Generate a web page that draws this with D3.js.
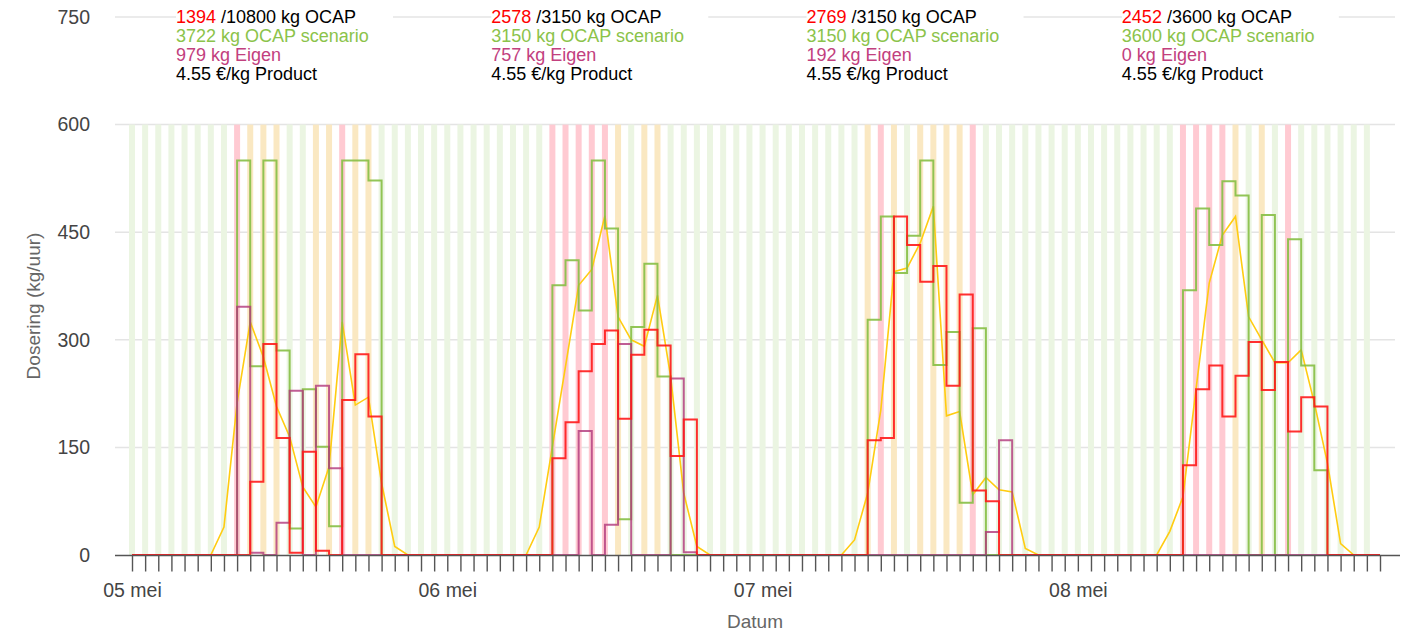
<!DOCTYPE html>
<html>
<head>
<meta charset="utf-8">
<script src="https://cdn.jsdelivr.net/npm/d3@7"></script>
<style>
    body { margin: 0; background: #fff; }
    svg text { font-family: "Liberation Sans", Arial, sans-serif; }
</style>
</head>
<body>
<div id="chart-area"></div>
<script>
/*
*    dosering per uur, 4 dagen
*/

// hourly values per day (kg/uur), 24 per day
var scenario = [
    0,0,0,0,0,0,0,0,550,263,550,285,37,231,151,40,550,550,522,0,0,0,0,0,
    0,0,0,0,0,0,0,0,376,411,341,550,455,50,318,406,249,0,0,0,0,0,0,0,
    0,0,0,0,0,0,0,0,328,472,393,445,550,265,311,73,316,0,0,0,0,0,0,0,
    0,0,0,0,0,0,0,0,369,483,432,521,501,0,474,0,440,264,118,0,0,0,0,0
];
var actual = [
    0,0,0,0,0,0,0,0,0,102,294,163,3,144,6,0,216,280,193,0,0,0,0,0,
    0,0,0,0,0,0,0,0,135,185,256,294,313,190,279,314,292,138,189,0,0,0,0,0,
    0,0,0,0,0,0,0,0,160,163,472,432,381,403,236,363,90,75,0,0,0,0,0,0,
    0,0,0,0,0,0,0,0,125,231,264,193,250,297,230,269,172,220,207,0,0,0,0,0
];
var eigen = [
    0,0,0,0,0,0,0,0,346,3,0,45,229,0,236,121,0,0,0,0,0,0,0,0,
    0,0,0,0,0,0,0,0,0,0,173,0,42,294,0,0,0,246,4,0,0,0,0,0,
    0,0,0,0,0,0,0,0,0,0,0,0,0,0,0,0,0,32,160,0,0,0,0,0,
    0,0,0,0,0,0,0,0,0,0,0,0,0,0,0,0,0,0,0,0,0,0,0,0
];
var forecast = [
    0,0,0,0,0,0,0,39,212,325,276,207,165,95,67,123,325,209,220,100,12,0,0,0,
    0,0,0,0,0,0,0,39,151,263,376,398,473,332,300,291,362,249,86,12,0,0,0,0,
    0,0,0,0,0,0,0,21,86,202,395,400,435,486,194,200,84,108,91,88,9,0,0,0,
    0,0,0,0,0,0,0,33,81,232,379,446,472,332,300,268,268,286,212,128,16,0,0,0
];

// hour status: g = normaal, o = let op, p = piek
var hourStatus = (
    "ggggggggpoooggoopooggggg" +
    "ggggggggpppppogooggggggg" +
    "ggggggggopogoooopggggggg" +
    "ggggggggppppogogpgggggg-"
).split("");

// day summaries
var dayActual = [1394, 2578, 2769, 2452];
var dayLimit = [10800, 3150, 3150, 3600];
var dayScenario = [3722, 3150, 3150, 3600];
var dayEigen = [979, 757, 192, 0];
var dayPrice = [4.55, 4.55, 4.55, 4.55];

var yTicks = [0, 150, 300, 450, 600, 750];

var svgWidth = 1415;
var svgHeight = 632;
var plotLeft = 115, plotRight = 1395, plotTop = 17, plotBottom = 555;

var start = new Date(Date.UTC(2021, 4, 5));
var hours = actual.map((d, i) => d3.utcHour.offset(start, i));
var days = d3.range(4).map((i) => d3.utcDay.offset(start, i));

var nl = d3.timeFormatLocale({
    dateTime: "%a %e %B %Y %T", date: "%d-%m-%Y", time: "%H:%M:%S",
    periods: ["AM", "PM"],
    days: ["zondag","maandag","dinsdag","woensdag","donderdag","vrijdag","zaterdag"],
    shortDays: ["zo","ma","di","wo","do","vr","za"],
    months: ["januari","februari","maart","april","mei","juni","juli","augustus","september","oktober","november","december"],
    shortMonths: ["jan","feb","mrt","apr","mei","jun","jul","aug","sep","okt","nov","dec"]
});
var fmtDay = nl.utcFormat("%d %b");

var x = d3.scaleUtc()
    .domain([hours[0], hours[hours.length - 1]])
    .range([132, 1380]);

var y = d3.scaleLinear()
    .domain([0, 750])
    .range([plotBottom, plotTop]);

var svg = d3.select("#chart-area").append("svg")
    .attr("width", svgWidth)
    .attr("height", svgHeight);

// gridlines
svg.append("g").selectAll("line")
    .data(yTicks.filter((d) => d > 0))
    .enter().append("line")
    .attr("x1", plotLeft).attr("x2", plotRight)
    .attr("y1", (d) => y(d)).attr("y2", (d) => y(d))
    .attr("stroke", "#e4e4e4")
    .attr("stroke-width", 1.5);

// status stripes
var stripeColor = { g: "#ebf5e2", o: "#fae8c2", p: "#ffcad2" };
svg.append("g").selectAll("rect")
    .data(hourStatus.map((s, i) => ({ s: s, t: hours[i] })).filter((d) => d.s !== "-"))
    .enter().append("rect")
    .attr("x", (d) => x(d.t) - 3)
    .attr("width", 6)
    .attr("y", y(600))
    .attr("height", y(0) - y(600))
    .attr("fill", (d) => stripeColor[d.s]);

// lines
var step = d3.line()
    .x((d, i) => x(hours[i]))
    .y((d) => y(d))
    .curve(d3.curveStepAfter);

var straight = d3.line()
    .x((d, i) => x(hours[i]))
    .y((d) => y(d));

svg.append("path").datum(forecast)
    .attr("d", straight)
    .attr("fill", "none")
    .attr("stroke", "#ffcc11")
    .attr("stroke-width", 1.6);

svg.append("path").datum(scenario)
    .attr("d", step)
    .attr("fill", "none")
    .attr("stroke", "#86bf45")
    .attr("stroke-opacity", 0.9)
    .attr("stroke-width", 2);

svg.append("path").datum(eigen)
    .attr("d", step)
    .attr("fill", "none")
    .attr("stroke", "#b0367a")
    .attr("stroke-opacity", 0.8)
    .attr("stroke-width", 2);

svg.append("path").datum(actual)
    .attr("d", step)
    .attr("fill", "none")
    .attr("stroke", "#ff1a1a")
    .attr("stroke-opacity", 0.9)
    .attr("stroke-width", 2);

// x axis
svg.append("line")
    .attr("x1", plotLeft).attr("x2", 1400)
    .attr("y1", plotBottom + 0.5).attr("y2", plotBottom + 0.5)
    .attr("stroke", "#555")
    .attr("stroke-width", 1.5);

var xAxis = svg.append("g")
    .attr("transform", "translate(0," + (plotBottom + 0.5) + ")")
    .call(d3.axisBottom(x)
        .ticks(d3.utcHour.every(1))
        .tickSize(16)
        .tickSizeOuter(0)
        .tickPadding(12)
        .tickFormat((d) => d.getUTCHours() === 0 ? fmtDay(d) : ""));

xAxis.select(".domain").remove();
xAxis.selectAll(".tick line").attr("stroke", "#555").attr("stroke-width", 1.4);
xAxis.selectAll("text")
    .attr("fill", "#444")
    .style("font-size", "19.5px");

// y axis labels
var yAxis = svg.append("g")
    .attr("transform", "translate(" + plotLeft + ",0)")
    .call(d3.axisLeft(y)
        .tickValues(yTicks)
        .tickSize(0)
        .tickPadding(25));

yAxis.select(".domain").remove();
yAxis.selectAll("text")
    .attr("fill", "#444")
    .style("font-size", "19.5px");

// titles
svg.append("text")
    .attr("transform", "translate(40," + ((plotTop + plotBottom) / 2 + 20) + ") rotate(-90)")
    .attr("text-anchor", "middle")
    .attr("fill", "#666")
    .style("font-size", "19px")
    .text("Dosering (kg/uur)");

svg.append("text")
    .attr("x", (plotLeft + plotRight) / 2)
    .attr("y", 628)
    .attr("text-anchor", "middle")
    .attr("fill", "#666")
    .style("font-size", "19px")
    .text("Datum");

// day summaries
var notes = svg.append("g").selectAll("g")
    .data(days)
    .enter().append("g")
    .attr("transform", (d) => "translate(" + (x(d) + 44) + ",0)");

notes.append("rect")
    .attr("x", 0).attr("y", 8)
    .attr("width", 217).attr("height", 18)
    .attr("fill", "#fff");

var line1 = notes.append("text")
    .attr("y", 23)
    .style("font-size", "18px");
line1.append("tspan").attr("fill", "#ff0000").text((d, i) => dayActual[i]);
line1.append("tspan").attr("fill", "#000").text((d, i) => " /" + dayLimit[i] + " kg OCAP");

notes.append("text")
    .attr("y", 42)
    .attr("fill", "#8bc34a")
    .style("font-size", "18px")
    .text((d, i) => dayScenario[i] + " kg OCAP scenario");

notes.append("text")
    .attr("y", 61)
    .attr("fill", "#c2407e")
    .style("font-size", "18px")
    .text((d, i) => dayEigen[i] + " kg Eigen");

notes.append("text")
    .attr("y", 80)
    .attr("fill", "#000")
    .style("font-size", "18px")
    .text((d, i) => dayPrice[i].toFixed(2) + " €/kg Product");
</script>
</body>
</html>
